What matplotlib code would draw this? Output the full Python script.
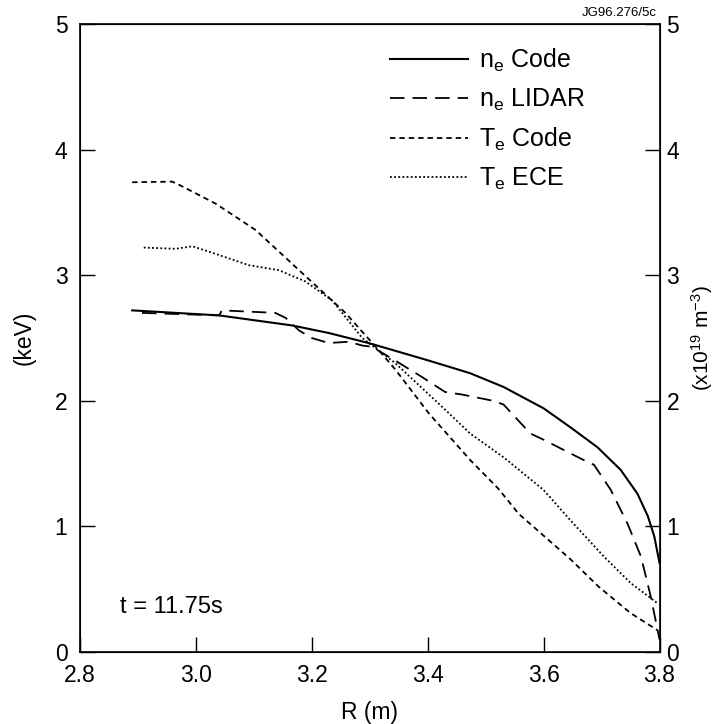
import matplotlib
matplotlib.use("Agg")
import matplotlib.pyplot as plt

plt.rcParams['font.family'] = ['Liberation Sans', 'DejaVu Sans']
plt.rcParams['mathtext.fontset'] = 'custom'
plt.rcParams['mathtext.rm'] = 'Liberation Sans'
plt.rcParams['mathtext.it'] = 'Liberation Sans'

# n_e Code (x10^19 m^-3)
ne_code_R = [2.89, 3.04, 3.166, 3.229, 3.298, 3.402, 3.473, 3.531, 3.60, 3.646, 3.693, 3.733,
             3.762, 3.780, 3.791, 3.80]
ne_code_v = [2.72, 2.68, 2.60, 2.54, 2.46, 2.32, 2.22, 2.11, 1.94, 1.79, 1.63, 1.45,
             1.26, 1.08, 0.92, 0.71]

# n_e LIDAR
ne_lidar_R = [2.907, 3.04, 3.045, 3.137, 3.155, 3.178, 3.20, 3.229, 3.264, 3.287, 3.304, 3.344, 3.39,
              3.43, 3.459, 3.513, 3.531, 3.577, 3.60, 3.664, 3.687, 3.716, 3.745, 3.768, 3.785, 3.80]
ne_lidar_v = [2.70, 2.68, 2.72, 2.70, 2.66, 2.56, 2.50, 2.46, 2.47, 2.44, 2.43, 2.32, 2.19,
              2.07, 2.05, 2.00, 1.97, 1.74, 1.69, 1.54, 1.49, 1.29, 1.02, 0.76, 0.44, 0.10]

# T_e Code (keV)
te_code_R = [2.89, 2.959, 2.971, 3.034, 3.103, 3.178, 3.258, 3.316, 3.344, 3.402, 3.473, 3.522,
             3.557, 3.609, 3.646, 3.695, 3.75, 3.796]
te_code_v = [3.74, 3.745, 3.72, 3.57, 3.36, 3.04, 2.70, 2.40, 2.25, 1.90, 1.53, 1.30,
             1.10, 0.89, 0.74, 0.52, 0.31, 0.175]

# T_e ECE (keV)
te_ece_R = [2.91, 2.965, 2.994, 3.034, 3.091, 3.143, 3.189, 3.235, 3.287, 3.344, 3.43, 3.473,
            3.531, 3.60, 3.646, 3.704, 3.75, 3.796]
te_ece_v = [3.22, 3.21, 3.23, 3.17, 3.08, 3.04, 2.95, 2.80, 2.50, 2.30, 1.93, 1.74,
            1.55, 1.29, 1.05, 0.76, 0.55, 0.39]

xticks = [2.8, 3.0, 3.2, 3.4, 3.6, 3.8]
xticklabels = ['2.8', '3.0', '3.2', '3.4', '3.6', '3.8']
yticks = [0, 1, 2, 3, 4, 5]

fig = plt.figure(figsize=(7.23, 7.24), dpi=100)
ax = fig.add_axes([80/723, 1 - 652/724, 579.5/723, 628/724])

lw = 1.3
ax.plot(ne_code_R, ne_code_v, color='black', lw=1.5, ls='-', label=r'n$_\mathrm{e}$ Code')
ax.plot(ne_lidar_R, ne_lidar_v, color='black', lw=lw, ls=(0, (8, 4.5)), label=r'n$_\mathrm{e}$ LIDAR')
ax.plot(te_code_R, te_code_v, color='black', lw=lw, ls=(0, (3, 2.2)), label=r'T$_\mathrm{e}$ Code')
ax.plot(te_ece_R, te_ece_v, color='black', lw=lw, ls=(0, (1, 1.3)), label=r'T$_\mathrm{e}$ ECE')

ax.set_xlim(2.8, 3.8)
ax.set_ylim(0, 5)
ax.set_xticks(xticks)
ax.set_xticklabels(xticklabels)
ax.set_yticks(yticks)
ax.tick_params(axis='x', direction='in', length=11, width=1, labelsize=16.5, pad=9)
ax.tick_params(axis='y', direction='in', length=11, width=1, labelsize=16.5, pad=9)
for s in ax.spines.values():
    s.set_linewidth(1.2)

ax2 = ax.twinx()
ax2.set_ylim(0, 5)
ax2.set_yticks(yticks)
ax2.tick_params(axis='y', direction='in', length=11, width=1, labelsize=16.5, pad=5)

ax.set_xlabel('R (m)', fontsize=16.5, labelpad=10)
ax.set_ylabel('(keV)', fontsize=16.5, labelpad=14)
ax2.set_ylabel(r'(x10$^{19}$ m$^{-3}$)', fontsize=15, labelpad=7)

ax.text(0.069, 0.072, 't = 11.75s', transform=ax.transAxes, fontsize=17, ha='left', va='center')
ax.text(0.995, 1.008, 'JG96.276/5c', transform=ax.transAxes, fontsize=9.5, ha='right', va='bottom')

leg = ax.legend(loc='upper left', bbox_to_anchor=(0.535, 0.963), frameon=False, fontsize=18,
                handlelength=3.1, handletextpad=0.45, labelspacing=0.5, borderpad=0, borderaxespad=0)

fig.savefig('out.png', dpi=100)
